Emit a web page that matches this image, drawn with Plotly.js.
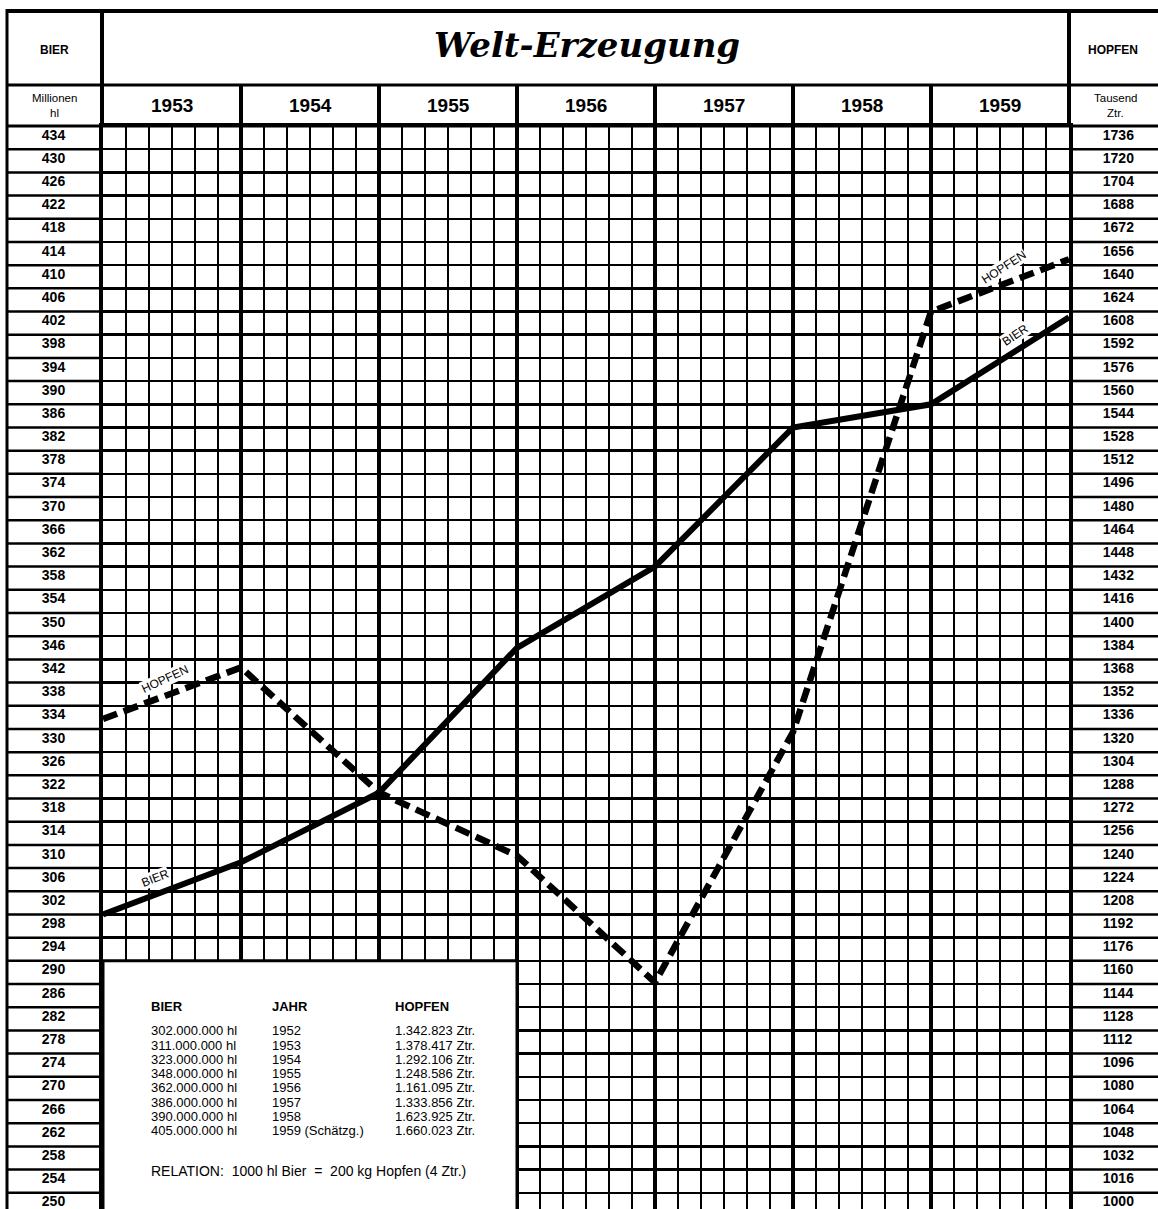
<!DOCTYPE html>
<html><head><meta charset="utf-8">
<script src="https://cdn.plot.ly/plotly-3.0.1.min.js"></script>
<style>html,body{margin:0;padding:0;background:#fff;} #chart{width:1158px;height:1209px;}</style>
</head><body><div id="chart"></div>
<script>
// ---------- data ----------
const jahre = [1952, 1953, 1954, 1955, 1956, 1957, 1958, 1959];
const jahrText = ['1952', '1953', '1954', '1955', '1956', '1957', '1958', '1959 (Schätzg.)'];
const bierMioHl = [302, 311, 323, 348, 362, 386, 390, 405];
const hopfenZtr = [1342823, 1378417, 1292106, 1248586, 1161095, 1333856, 1623925, 1660023];
const spaltenJahre = [1953, 1954, 1955, 1956, 1957, 1958, 1959];
const bierTicks = [250,254,258,262,266,270,274,278,282,286,290,294,298,302,306,310,314,318,322,326,330,334,338,342,346,350,354,358,362,366,370,374,378,382,386,390,394,398,402,406,410,414,418,422,426,430,434];
const hopfenTicks = [1000,1016,1032,1048,1064,1080,1096,1112,1128,1144,1160,1176,1192,1208,1224,1240,1256,1272,1288,1304,1320,1336,1352,1368,1384,1400,1416,1432,1448,1464,1480,1496,1512,1528,1544,1560,1576,1592,1608,1624,1640,1656,1672,1688,1704,1720,1736];
const relationText = 'RELATION:  1000 hl Bier  =  200 kg Hopfen (4 Ztr.)';

// ---------- helpers ----------
const W = 1158, H = 1209, L = 103, R = 89, T = 126, B = 0;
const PW = W - L - R, PH = H - T - B;
const P = x => (x - L) / PW;
const Q = y => 1 - (y - T) / PH;
const dots = n => String(n).replace(/\B(?=(\d{3})+(?!\d))/g, '.');
const FONT = 'Liberation Sans, Arial, sans-serif';
const BLK = '#000';

// ---------- traces ----------
const traces = [
  {x: jahre, y: bierMioHl, type: 'scatter', mode: 'lines', yaxis: 'y',
   line: {color: BLK, width: 6}, hoverinfo: 'skip'},
  {x: jahre, y: hopfenZtr.map(v => v / 1000), type: 'scatter', mode: 'lines', yaxis: 'y2',
   line: {color: BLK, width: 6.5, dash: '15px,7px'}, hoverinfo: 'skip'}
];

// ---------- shapes ----------
const shapes = [];
const pline = (x0, y0, x1, y1, w) => shapes.push({type: 'line', xref: 'paper', yref: 'paper',
  x0: P(x0), x1: P(x1), y0: Q(y0), y1: Q(y1), line: {color: BLK, width: w}, layer: 'above'});
pline(7, 11, 1165, 11, 4);
pline(7, 85, 1165, 85, 3);
pline(7, 126, 1165, 126, 3);
pline(7, 9, 7, 1215, 3);
pline(102, 11, 102, 126, 4);
pline(1069, 11, 1069, 126, 4);
spaltenJahre.slice(0, -1).forEach(j => shapes.push({type: 'line', xref: 'x', yref: 'paper',
  x0: j, x1: j, y0: Q(85), y1: Q(126), line: {color: BLK, width: 4}, layer: 'above'}));
bierTicks.forEach(v => {
  shapes.push({type: 'line', xref: 'paper', yref: 'y', x0: P(7), x1: P(102), y0: v, y1: v,
    line: {color: BLK, width: 2.5}, layer: 'above'});
  shapes.push({type: 'line', xref: 'paper', yref: 'y', x0: P(1069), x1: P(1165), y0: v, y1: v,
    line: {color: BLK, width: 2.5}, layer: 'above'});
});
// inset box (white, covers the grid)
shapes.push({type: 'rect', xref: 'x', yref: 'y', x0: 1952, x1: 1955, y0: 240, y1: 294,
  fillcolor: '#fff', line: {color: BLK, width: 3}, layer: 'above'});

// ---------- annotations ----------
const ann = [];
const txt = (text, x, y, size, opts = {}) => ann.push(Object.assign({
  text, xref: 'paper', yref: 'paper', x: P(x), y: Q(y), showarrow: false,
  xanchor: 'center', yanchor: 'middle',
  font: {family: FONT, size, color: BLK}
}, opts));
txt('<b>BIER</b>', 54, 50, 12);
txt('Millionen', 54, 98, 11.5);
txt('hl', 54, 113, 11.5);
txt('<b>HOPFEN</b>', 1113, 50, 12);
txt('Tausend', 1115, 98, 11.5);
txt('Ztr.', 1115, 113, 11.5);
spaltenJahre.forEach(j => ann.push({text: '<b>' + j + '</b>', xref: 'x', yref: 'paper', x: j - 0.5, y: Q(106),
  showarrow: false, xanchor: 'center', yanchor: 'middle', font: {family: FONT, size: 19, color: BLK}}));

// line labels
const lineLbl = (text, x, y, yref, ang) => ann.push({text, xref: 'x', yref, x, y, textangle: ang,
  showarrow: false, xanchor: 'center', yanchor: 'middle', bgcolor: '#fff', borderpad: 0,
  font: {family: FONT, size: 12, color: BLK}});
lineLbl('HOPFEN', 1952.45, 342.6, 'y', -25);
lineLbl('BIER', 1952.38, 308.3, 'y', -21);
lineLbl('HOPFEN', 1958.53, 413.6, 'y', -33);
lineLbl('BIER', 1958.61, 402, 'y', -34);

// inset table
const cx = [149, 270, 393];
txt('<b>BIER</b>', cx[0], 1006.7, 13, {xanchor: 'left'});
txt('<b>JAHR</b>', cx[1], 1006.7, 13, {xanchor: 'left'});
txt('<b>HOPFEN</b>', cx[2], 1006.7, 13, {xanchor: 'left'});
jahre.forEach((j, i) => {
  const y = 1030.7 + i * 14.3;
  txt(dots(bierMioHl[i] * 1000000) + ' hl', cx[0], y, 13, {xanchor: 'left'});
  txt(jahrText[i], cx[1], y, 13, {xanchor: 'left'});
  txt(dots(hopfenZtr[i]) + ' Ztr.', cx[2], y, 13, {xanchor: 'left'});
});
txt(relationText, cx[0], 1171, 14, {xanchor: 'left'});

// ---------- layout ----------
const yr1 = [251.2, 438];
const layout = {
  width: W, height: H,
  margin: {l: L, r: R, t: T, b: B, pad: 0},
  paper_bgcolor: '#fff', plot_bgcolor: '#fff',
  showlegend: false, hovermode: false,
  title: {text: 'Welt-Erzeugung', xref: 'container', yref: 'container',
    x: 587 / W, xanchor: 'center', y: 1 - 45 / H, yanchor: 'middle',
    font: {family: 'DejaVu Serif, serif', size: 34, weight: 'bold', style: 'italic', color: BLK}},
  xaxis: {range: [1952, 1959], side: 'top', showticklabels: false, ticks: '', zeroline: false,
    tickmode: 'array', tickvals: jahre, showgrid: true, gridcolor: BLK, gridwidth: 4,
    showline: true, linecolor: BLK, linewidth: 3, mirror: false,
    minor: {tickmode: 'linear', tick0: 1952, dtick: 1 / 6, showgrid: true, gridcolor: BLK, gridwidth: 2.5, ticks: ''}},
  yaxis: {range: yr1, tickmode: 'array', tickvals: bierTicks.map(v => v + 2.5), ticktext: bierTicks.map(String),
    ticks: '', showgrid: false, zeroline: false, showline: true, linecolor: BLK, linewidth: 4,
    ticklabelstandoff: 31, ticklabeloverflow: 'allow',
    tickfont: {family: FONT, size: 14, weight: 'bold', color: BLK},
    minor: {tickmode: 'array', tickvals: bierTicks, showgrid: true, gridcolor: BLK, gridwidth: 2.5, ticks: ''}},
  yaxis2: {range: yr1.map(v => v * 4), overlaying: 'y', side: 'right', tickmode: 'array',
    tickvals: hopfenTicks.map(v => v + 10), ticktext: hopfenTicks.map(String),
    ticks: '', showgrid: false, zeroline: false, showline: true, linecolor: BLK, linewidth: 4,
    ticklabelstandoff: 27, ticklabeloverflow: 'allow',
    tickfont: {family: FONT, size: 14, weight: 'bold', color: BLK}},
  shapes, annotations: ann
};

Plotly.newPlot('chart', traces, layout, {staticPlot: true, displayModeBar: false});
</script>
</body></html>
